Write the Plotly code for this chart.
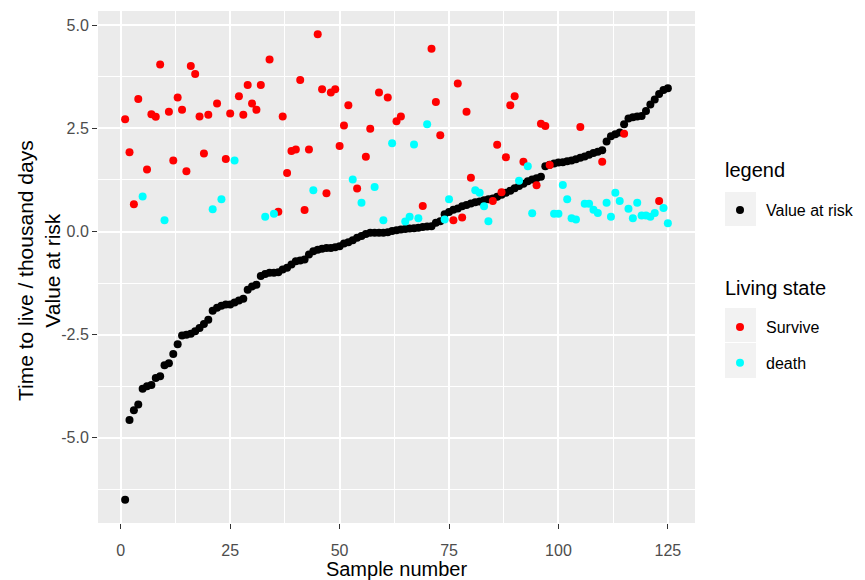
import plotly.graph_objects as go

# Sample index on the x axis
sample = list(range(1, 126))

# Value at risk, sorted ascending (black points)
value_at_risk = [
    -6.50, -4.57, -4.33, -4.19, -3.81, -3.75, -3.72, -3.55, -3.51, -3.24,
    -3.19, -2.97, -2.73, -2.52, -2.50, -2.48, -2.42, -2.34, -2.24, -2.14,
    -1.92, -1.85, -1.80, -1.77, -1.77, -1.72, -1.67, -1.63, -1.41, -1.33,
    -1.29, -1.08, -1.03, -1.00, -1.00, -0.99, -0.92, -0.88, -0.80, -0.72,
    -0.70, -0.68, -0.56, -0.48, -0.44, -0.42, -0.40, -0.40, -0.38, -0.36,
    -0.29, -0.26, -0.21, -0.15, -0.11, -0.06, -0.03, -0.03, -0.03, -0.03,
    -0.02, 0.01, 0.03, 0.05, 0.06, 0.07, 0.08, 0.09, 0.11, 0.12,
    0.13, 0.21, 0.25, 0.42, 0.47, 0.53, 0.56, 0.61, 0.64, 0.68,
    0.71, 0.73, 0.76, 0.78, 0.80, 0.84, 0.89, 0.94, 0.99, 1.05,
    1.10, 1.16, 1.22, 1.26, 1.29, 1.33, 1.58, 1.62, 1.65, 1.67,
    1.68, 1.70, 1.72, 1.75, 1.79, 1.82, 1.86, 1.90, 1.93, 1.97,
    2.18, 2.31, 2.36, 2.40, 2.60, 2.74, 2.77, 2.79, 2.80, 2.92,
    3.08, 3.20, 3.33, 3.43, 3.47,
]

# Time to live in thousand days, one value per sample
time_to_live = [
    2.72, 1.92, 0.66, 3.21, 0.85, 1.50, 2.84, 2.78, 4.05, 0.27,
    2.90, 1.72, 3.25, 2.95, 1.46, 4.01, 3.82, 2.79, 1.89, 2.83,
    0.54, 3.10, 0.78, 1.76, 2.86, 1.72, 3.28, 2.83, 3.55, 3.10,
    2.95, 3.55, 0.36, 4.17, 0.43, 0.48, 2.79, 1.42, 1.95, 1.99,
    3.67, 0.52, 1.99, 1.00, 4.78, 3.45, 0.93, 3.37, 3.45, 2.07,
    2.57, 3.06, 1.26, 1.04, 0.70, 1.81, 2.49, 1.08, 3.37, 0.27,
    3.25, 2.14, 2.67, 2.79, 0.24, 0.36, 2.11, 0.32, 0.62, 2.60,
    4.43, 3.14, 2.33, 0.29, 0.78, 0.27, 3.59, 0.34, 2.90, 1.30,
    1.00, 0.94, 0.61, 0.25, 0.74, 2.10, 0.95, 1.80, 3.06, 3.28,
    1.23, 1.69, 1.58, 0.44, 1.12, 2.61, 2.56, 1.61, 0.43, 0.43,
    1.13, 0.78, 0.32, 0.29, 2.53, 0.67, 0.67, 0.53, 0.45, 1.69,
    0.70, 0.36, 0.94, 0.74, 2.37, 0.55, 0.32, 0.70, 0.39, 0.39,
    0.36, 0.45, 0.74, 0.57, 0.20,
]

# Samples whose living state is "death"; all others survive
death_samples = [
    5, 10, 21, 23, 26, 33, 35, 44, 53, 55, 58, 60, 62, 65, 66, 67, 68, 70,
    74, 75, 81, 82, 83, 84, 91, 93, 94, 99, 100, 101, 102, 103, 104, 106,
    107, 108, 109, 111, 112, 113, 114, 116, 117, 118, 119, 120, 121, 122,
    124, 125,
]

state_names = ["Survive", "death"]
state_colors = ["#FF0000", "#00FFFF"]

x_tick_vals = [0, 25, 50, 75, 100, 125]
x_tick_text = ["0", "25", "50", "75", "100", "125"]
y_tick_vals = [-5.0, -2.5, 0.0, 2.5, 5.0]
y_tick_text = ["-5.0", "-2.5", "0.0", "2.5", "5.0"]

living_state = ["death" if s in death_samples else "Survive" for s in sample]

FONT = "Liberation Sans, Arial, sans-serif"
PANEL = "#EBEBEB"
KEY_BG = "#F2F2F2"

W, H = 865, 580
ML, MR, MT, MB = 98, 170, 11, 57


def px_to_paper_x(px):
    return (px - ML) / (W - ML - MR)


def px_to_paper_y(py):
    return (H - MB - py) / (H - MT - MB)


fig = go.Figure()

fig.add_trace(go.Scatter(
    x=sample, y=value_at_risk, mode="markers", name="Value at risk",
    marker=dict(color="#000000", size=8),
    legend="legend", legendgroup="var", showlegend=True,
))

for name, color in zip(state_names, state_colors):
    xs = [s for s, st in zip(sample, living_state) if st == name]
    ys = [t for t, st in zip(time_to_live, living_state) if st == name]
    fig.add_trace(go.Scatter(
        x=xs, y=ys, mode="markers", name=name,
        marker=dict(color=color, size=8),
        legend="legend2", legendgroup=name, showlegend=True,
    ))

# ggplot-style extended ranges (5% padding on each side)
xmin, xmax = min(sample), max(sample)
all_y = value_at_risk + time_to_live
ymin, ymax = min(all_y), max(all_y)
xpad = (xmax - xmin) * 0.05
ypad = (ymax - ymin) * 0.05

axis_common = dict(
    showgrid=True, gridcolor="white", gridwidth=2,
    zeroline=False, showline=False, automargin=False,
    ticks="outside", ticklen=5, tickwidth=1, tickcolor="#333333",
    tickfont=dict(family=FONT, size=16, color="#4D4D4D"),
)

legend_common = dict(
    font=dict(family=FONT, size=16, color="black"),
    xref="container", yref="container", xanchor="left", yanchor="top",
    bgcolor="rgba(0,0,0,0)", itemwidth=42, tracegroupgap=12,
)

fig.update_layout(
    width=W, height=H,
    margin=dict(l=ML, r=MR, t=MT, b=MB, autoexpand=False),
    paper_bgcolor="white", plot_bgcolor=PANEL,
    font=dict(family=FONT, color="black"),
    showlegend=True,
    xaxis=dict(
        range=[xmin - xpad, xmax + xpad],
        tickvals=x_tick_vals, ticktext=x_tick_text,
        minor=dict(dtick=12.5, tick0=0, showgrid=True, gridcolor="white", gridwidth=1, ticks=""),
        ticklabelstandoff=8,
        title=dict(text="Sample number", font=dict(family=FONT, size=20, color="black"), standoff=3),
        **axis_common,
    ),
    yaxis=dict(
        range=[ymin - ypad, ymax + ypad],
        tickvals=y_tick_vals, ticktext=y_tick_text,
        minor=dict(dtick=1.25, tick0=0, showgrid=True, gridcolor="white", gridwidth=1, ticks=""),
        **axis_common,
    ),
    legend=dict(x=714 / W, y=1 - 193 / H, **legend_common),
    legend2=dict(x=714 / W, y=1 - 310 / H, **legend_common),
)

# Two-line y axis title
fig.add_annotation(
    text="Time to live / thousand days<br>Value at risk",
    xref="paper", yref="paper",
    x=px_to_paper_x(39), y=px_to_paper_y(271),
    xanchor="center", yanchor="middle", textangle=-90, showarrow=False,
    font=dict(family=FONT, size=21, color="black"),
)

# Legend titles
for text, ypx in [("legend", 170), ("Living state", 288)]:
    fig.add_annotation(
        text=text, xref="paper", yref="paper",
        x=px_to_paper_x(723), y=px_to_paper_y(ypx),
        xanchor="left", yanchor="middle", showarrow=False,
        font=dict(family=FONT, size=20, color="black"),
    )

# Grey key backgrounds behind the legend symbols
for (x0, y0, x1, y1) in [(725, 192, 756, 226), (725, 308, 756, 342), (725, 343, 756, 378)]:
    fig.add_shape(
        type="rect", xref="paper", yref="paper",
        x0=px_to_paper_x(x0), x1=px_to_paper_x(x1),
        y0=px_to_paper_y(y0), y1=px_to_paper_y(y1),
        fillcolor=KEY_BG, line=dict(width=0), layer="below",
    )

fig.write_html("out.html")
